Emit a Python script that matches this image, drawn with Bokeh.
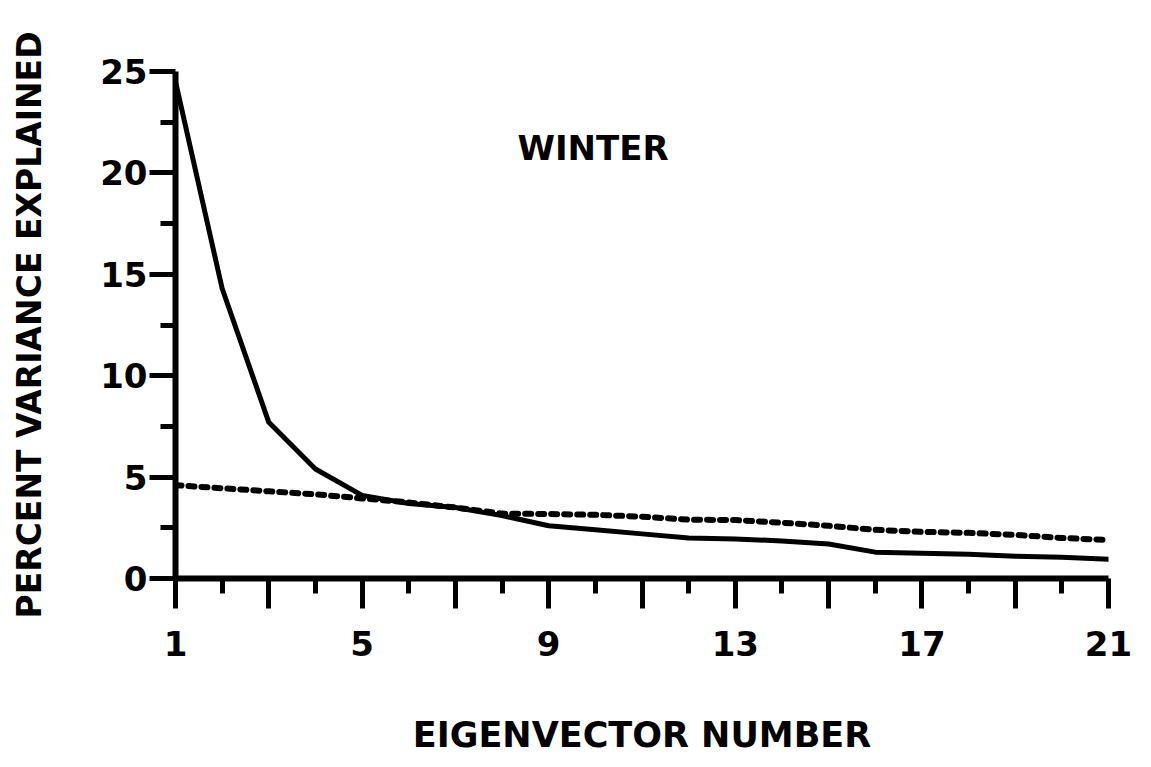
from bokeh.plotting import figure
from bokeh.models import Range1d, FixedTicker, Label
from bokeh.embed import file_html
from bokeh.resources import INLINE

# ---- data (values relative to the chart's own axes) ----
eigenvector = list(range(1, 22))
explained = [24.5, 14.3, 7.7, 5.4, 4.1, 3.7, 3.5, 3.1, 2.6, 2.4, 2.2,
             2.0, 1.95, 1.85, 1.7, 1.3, 1.25, 1.2, 1.1, 1.05, 0.95]
reference = [4.6, 4.45, 4.3, 4.15, 3.95, 3.75, 3.5, 3.2, 3.18, 3.14, 3.05,
             2.9, 2.88, 2.75, 2.6, 2.4, 2.3, 2.25, 2.15, 2.0, 1.9]

x_major = [1, 3, 5, 7, 9, 11, 13, 15, 17, 19, 21]
x_minor = [2, 4, 6, 8, 10, 12, 14, 16, 18, 20]
x_labels = ["1", "5", "9", "13", "17", "21"]
y_major = [0, 5, 10, 15, 20, 25]
y_minor = [2.5, 7.5, 12.5, 17.5, 22.5]
title_text = "WINTER"
x_title = "EIGENVECTOR NUMBER"
y_title = "PERCENT VARIANCE EXPLAINED"

FONT = "DejaVu Sans"
INK = "black"

p = figure(width=1134, height=758, output_backend="svg", toolbar_location=None,
           x_range=Range1d(1, 21), y_range=Range1d(0, 25),
           min_border_left=175, min_border_right=26, min_border_top=71,
           min_border_bottom=180)
p.outline_line_color = None
p.grid.visible = False
p.background_fill_color = "white"
p.border_fill_color = "white"

# curves
p.line(eigenvector, explained, line_color=INK, line_width=5, line_join="round",
       line_cap="round")
p.line(eigenvector, reference, line_color=INK, line_width=6, line_dash="6 7",
       line_cap="round", line_join="round")

# x axis
xa = p.xaxis[0]
xa.ticker = FixedTicker(ticks=x_major, minor_ticks=x_minor)
xa.major_label_overrides = {t: (str(t) if str(t) in x_labels else "") for t in x_major}
xa.axis_line_width = 6
xa.axis_line_color = INK
xa.major_tick_line_width = 5
xa.minor_tick_line_width = 5
xa.major_tick_line_color = INK
xa.minor_tick_line_color = INK
xa.major_tick_in = 0
xa.minor_tick_in = 0
xa.major_tick_out = 30
xa.minor_tick_out = 15
xa.major_label_standoff = 22
xa.major_label_text_font = FONT
xa.major_label_text_font_style = "bold"
xa.major_label_text_font_size = "34px"
xa.major_label_text_color = INK
xa.axis_label = x_title
xa.axis_label_text_font = FONT
xa.axis_label_text_font_style = "bold"
xa.axis_label_text_font_size = "35px"
xa.axis_label_text_color = INK
xa.axis_label_standoff = 56

# y axis
ya = p.yaxis[0]
ya.ticker = FixedTicker(ticks=y_major, minor_ticks=y_minor)
ya.axis_line_width = 6
ya.axis_line_color = INK
ya.major_tick_line_width = 5
ya.minor_tick_line_width = 5
ya.major_tick_line_color = INK
ya.minor_tick_line_color = INK
ya.major_tick_in = 0
ya.minor_tick_in = 0
ya.major_tick_out = 26
ya.minor_tick_out = 15
ya.major_label_standoff = 2
ya.major_label_text_font = FONT
ya.major_label_text_font_style = "bold"
ya.major_label_text_font_size = "34px"
ya.major_label_text_color = INK
ya.axis_label = y_title
ya.axis_label_text_font = FONT
ya.axis_label_text_font_style = "bold"
ya.axis_label_text_font_size = "33px"
ya.axis_label_text_color = INK
ya.axis_label_standoff = 48

p.add_layout(Label(x=9.95, y=21.25, text=title_text, text_align="center",
                   text_baseline="middle", text_font=FONT, text_font_style="bold",
                   text_font_size="34px", text_color=INK))

open("out.html", "w").write(file_html(p, INLINE))
